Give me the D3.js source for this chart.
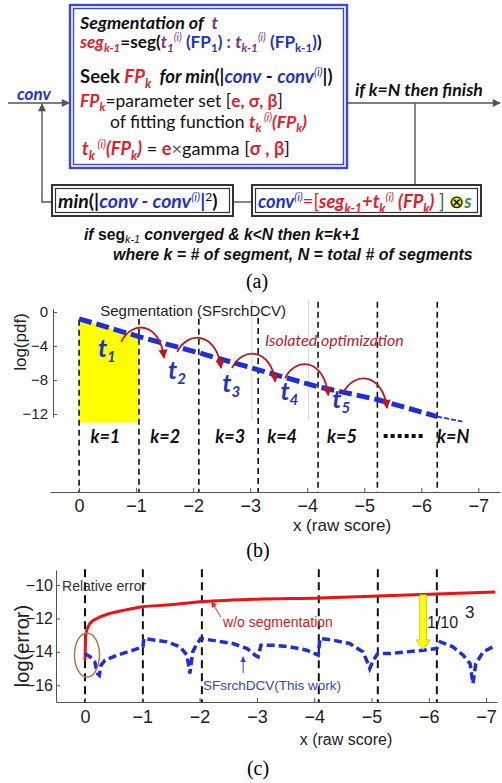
<!DOCTYPE html>
<html><head><meta charset="utf-8">
<script src="https://cdn.jsdelivr.net/npm/d3@7"></script>
<style>body{margin:0;background:#fff;}svg{display:block;}</style>
</head><body>
<svg id="c" width="502" height="783"></svg>
<script>
// ---------------- data ----------------
const xTicks = [0,-1,-2,-3,-4,-5,-6,-7];
const pdfTicks = [0,-4,-8,-12];
const errTicks = [-10,-12,-14,-16];
// panel (b)
const segBounds = [0,-1.05,-2.1,-3.14,-4.19,-5.23,-6.28];
const segTop    = [-0.9,-0.8,-0.8,-0.7,1.2,1.2,1.2];
const gridX     = [-3.03,-4.02];
const kLabels   = ["k=1","k=2","k=3","k=4","k=5","k=N"];
const kLabelX   = [-0.46,-1.51,-2.65,-3.56,-4.61,-6.56];
const pdfLineX  = [0,-1.05,-2.1,-3.14,-4.19,-5.23,-6.28];
const pdfLineY  = [-0.8,-2.9,-4.8,-6.8,-8.8,-10.3,-12.3];
const pdfTailX  = [-6.28,-6.72];
const pdfTailY  = [-12.3,-12.9];
const fillBottom = -13;
const arcFromX = [-0.74,-1.72,-2.68,-3.61,-4.63];
const arcFromY = [-3.5,-4.7,-6.6,-7.8,-9.5];
const arcToX   = [-1.49,-2.49,-3.44,-4.37,-5.40];
const arcToY   = [-5.4,-6.6,-8.2,-9.8,-11.3];
const tLabelX  = [-0.33,-1.56,-2.51,-3.53,-4.44];
const tLabelY  = [-5.3,-7.9,-9.4,-10.35,-11.3];
const tLabelSub = ["1","2","3","4","5"];
// panel (c)
const errBoundX = [0,-1.01,-2.04,-4.08,-5.11,-6.14];
const noSegX = [0,-0.017,-0.087,-0.21,-0.44,-0.84,-1.01,-1.43,-2.01,-2.58,-3.0,-4.1,-5.11,-6.14,-7.16];
const noSegY = [-14.5,-12.9,-12.3,-12.0,-11.7,-11.4,-11.3,-11.2,-11.0,-10.9,-10.85,-10.78,-10.66,-10.54,-10.42];
const segErrX = [0,-0.09,-0.17,-0.22,-0.25,-0.28,-0.35,-0.56,-0.84,-1.01,-1.03,-1.43,-1.66,-1.78,-1.83,-1.88,-1.94,-2.02,-2.3,-2.58,-2.83,-2.97,-3.02,-3.07,-3.28,-3.58,-3.87,-4.07,-4.10,-4.33,-4.62,-4.85,-4.94,-4.97,-5.03,-5.11,-5.32,-5.62,-5.9,-6.14,-6.2,-6.42,-6.6,-6.72,-6.77,-6.82,-6.95,-7.12];
const segErrY = [-14.1,-14.3,-14.6,-15.3,-15.4,-14.8,-14.5,-14.2,-13.9,-13.7,-13.2,-13.4,-13.7,-14.2,-15.3,-14.0,-13.6,-13.2,-13.35,-13.5,-13.8,-14.2,-14.3,-13.6,-13.6,-13.7,-13.9,-14.2,-13.2,-13.3,-13.5,-14.0,-14.7,-15.0,-14.5,-14.1,-14.1,-14.0,-13.9,-13.8,-13.4,-13.7,-14.2,-14.7,-15.9,-14.7,-14.0,-13.7];
const improveX = -5.9, improveFrom = -10.58, improveTo = -13.88;

// ---------------- setup ----------------
const svg = d3.select('#c');
const FLOW = "Lato, 'Open Sans', sans-serif";
const PLOT = "'Liberation Sans', Arial, sans-serif";
const SERIF = "'Liberation Serif', 'Times New Roman', serif";
const COL = {K:'#111', R:'#e3202a', B:'#2233c8', P:'#7a2f96', G:'#2e9a3a', D:'#555'};
const defs = svg.append('defs');
function marker(id, color, w, h) {
  defs.append('marker').attr('id',id).attr('viewBox','0 0 10 10').attr('refX',9).attr('refY',5)
    .attr('markerWidth',w).attr('markerHeight',h).attr('markerUnits','userSpaceOnUse').attr('orient','auto')
    .append('path').attr('d','M0,0 L10,5 L0,10 z').attr('fill',color);
}
marker('ag','#555',9,8); marker('ar','#c0151d',10,9); marker('ar2','#d03030',6,6); marker('ab','#3344cc',6,6);

function rich(x, y, parts, size, target, family, subShift) {
  const ss = subShift === undefined ? 0.25 : subShift;
  function draw(sz) {
    const t = svg.append('text').attr('x',x).attr('y',y)
      .style('font-family',family||FLOW).style('font-size',sz+'px').style('white-space','pre');
    let shift = 0;
    parts.forEach(([str, st, c]) => {
      const ts = t.append('tspan').text(str).attr('fill', COL[c]||c);
      if (st.includes('b')) ts.attr('font-weight','bold');
      if (st.includes('i')) ts.attr('font-style','italic');
      let want = 0, fs = sz;
      if (st.includes('_')) { want = ss*sz; fs = sz*0.68; }
      else if (st.includes('^')) { want = -0.38*sz; fs = sz*0.62; }
      ts.attr('font-size', fs+'px');
      if (want !== shift) { ts.attr('dy', want-shift); shift = want; }
    });
    return t;
  }
  let t = draw(size);
  if (target) { const w = t.node().getBBox().width; t.remove(); t = draw(size*target/w); }
  return t;
}

// ---------------- panel (a) ----------------
const fl = svg.append('g').attr('stroke','#555').attr('stroke-width',1.4).attr('fill','none');
fl.append('path').attr('d','M8,103 H69').attr('marker-end','url(#ag)');
fl.append('path').attr('d','M52,202 H42 V104').attr('marker-end','url(#ag)');
fl.append('path').attr('d','M347,103 H500').attr('marker-end','url(#ag)');
fl.append('path').attr('d','M415,103 V185');
fl.append('path').attr('d','M233,202 H252');
function dbox(x,y,w,h,col,o,i){
  svg.append('rect').attr('x',x).attr('y',y).attr('width',w).attr('height',h).attr('fill','#fff').attr('stroke',col).attr('stroke-width',o);
  svg.append('rect').attr('x',x+3.5).attr('y',y+3.5).attr('width',w-7).attr('height',h-7).attr('fill','none').attr('stroke',col).attr('stroke-width',i);
}
dbox(70,5,277,163,'#3a48d6',2.4,1.4);
dbox(52,185,181,31,'#333',2,1.2);
dbox(252,185,229,31,'#333',2,1.2);

rich(80,29,[["Segmentation of  ",'bi','K'],["t",'bi','P']],17,140);
rich(80,48,[["seg",'bi','R'],["k-1",'bi_','R'],["=seg(",'b','K'],["t",'bi','P'],["1",'bi_','P'],["(i)",'i^','P'],[" (FP",'b','B'],["1",'b_','B'],[")",'b','B'],[" : ",'b','P'],["t",'bi','P'],["k-1",'bi_','P'],["(i)",'i^','P'],[" (FP",'b','B'],["k-1",'b_','B'],[")",'b','B'],[")",'b','K']],17,243);
rich(80,83,[["Seek ",'b','K'],["FP",'bi','R'],["k",'bi_','R'],["  for min",'bi','K'],["(|",'b','K'],["conv",'bi','B'],[" - ",'b','K'],["conv",'bi','B'],["(i)",'i^','B'],["|)",'b','K']],17,253);
rich(80,107,[["FP",'bi','R'],["k",'bi_','R'],["=parameter set [",'','K'],["e, σ, β",'b','R'],["]",'','K']],17,203);
rich(110,128,[["of fitting function ",'','K'],["t",'bi','R'],["k",'bi_','R'],[" (i)",'i^','R'],["(FP",'bi','R'],["k",'bi_','R'],[")",'bi','R']],17,197);
rich(82,155,[["t",'bi','R'],["k",'bi_','R'],[" (i)",'i^','R'],["(FP",'bi','R'],["k",'bi_','R'],[")",'bi','R'],[" = ",'','K'],["e",'b','R'],["×",'','D'],["gamma [",'','K'],["σ , β",'b','R'],["]",'','K']],17,208);
rich(17,100,[["conv",'bi','B']],16,35);
rich(355,96,[["if k=N then finish",'bi','K']],17,128);
rich(58,208,[["min",'bi','K'],["(|",'b','K'],["conv - conv",'bi','B'],["(i)",'i^','B'],["|",'b','B'],["2",'^','K'],[")",'b','K']],17,160);
const ct = rich(258,208,[["conv",'bi','B'],["(i)",'i^','B'],["=[",'','R'],["seg",'bi','R'],["k-1",'bi_','R'],["+t",'bi','R'],["k",'bi_','R'],["(i)",'i^','R'],[" (FP",'bi','R'],["k",'bi_','R'],[")",'bi','R'],[" ] ",'','D'],["⊗",'','K'],["s",'bi','G']],17,214);
{
  const txt = ct.text(); const idx = txt.indexOf('⊗');
  const e = ct.node().getExtentOfChar(idx);
  svg.insert('circle', function(){ return ct.node(); })
    .attr('cx', e.x + e.width/2).attr('cy', e.y + e.height*0.56).attr('r', Math.min(e.width,e.height)*0.42)
    .attr('fill','#f4f000');
}
rich(84,240,[["if ",'bi','K'],["seg",'b','K'],["k-1",'i_','K'],[" converged & k<N then k=k+1",'bi','K']],15,276,PLOT,0.18);
rich(113,260,[["where k = # of segment, N = total # of segments",'bi','K']],15,360,PLOT);
svg.append('text').attr('x',257).attr('y',288).attr('text-anchor','middle').style('font-family',SERIF).style('font-size','20px').text('(a)');

// ---------------- panel (b) ----------------
const xB = d3.scaleLinear().domain([0.51,-7.38]).range([50,500]);
const yB = d3.scaleLinear().domain([0.4,-12.35]).range([308.6,416.975]);
const axisYb = 492;
const gb = svg.append('g');
gb.selectAll('.grid').data(gridX).join('line').attr('x1',d=>xB(d)).attr('x2',d=>xB(d))
  .attr('y1',yB(1.4)).attr('y2',yB(-12.7)).attr('stroke','#d4d4d4').attr('stroke-width',1);
const pts = pdfLineX.map((x,i)=>({x, y:pdfLineY[i]}));
gb.append('path').datum(pts.slice(0,2)).attr('fill','#ffff00')
  .attr('d', d3.area().x(d=>xB(d.x)).y0(yB(fillBottom)).y1(d=>yB(d.y)));
gb.selectAll('.sb').data(segBounds).join('line').attr('x1',d=>xB(d)).attr('x2',d=>xB(d))
  .attr('y1',(d,i)=>yB(segTop[i])).attr('y2',axisYb).attr('stroke','#111').attr('stroke-width',1.6).attr('stroke-dasharray','6 4');
gb.append('path').datum(pts).attr('fill','none').attr('stroke','#1f2fd8').attr('stroke-width',5).attr('stroke-dasharray','13 5')
  .attr('d', d3.line().x(d=>xB(d.x)).y(d=>yB(d.y)));
gb.append('path').datum(pdfTailX.map((x,i)=>({x,y:pdfTailY[i]}))).attr('fill','none').attr('stroke','#1f2fd8').attr('stroke-width',1.8).attr('stroke-dasharray','5 2')
  .attr('d', d3.line().x(d=>xB(d.x)).y(d=>yB(d.y)));
// arcs
arcFromX.forEach((fx,i)=>{
  const sx=xB(fx), sy=yB(arcFromY[i]), ex=xB(arcToX[i]), ey=yB(arcToY[i]), w=ex-sx, h=22;
  gb.append('path').attr('d',`M${sx},${sy} C${sx+0.25*w},${sy-h} ${ex-0.1*w},${sy-h*0.9} ${ex},${ey}`)
    .attr('fill','none').attr('stroke','#c0151d').attr('stroke-width',1.8).attr('marker-end','url(#ar)');
});
// t labels
tLabelX.forEach((tx,i)=>{
  const t = gb.append('text').attr('x',xB(tx)).attr('y',yB(tLabelY[i])).style('font-family',FLOW)
    .style('font-weight','bold').style('font-style','italic').attr('fill','#2233cc').style('font-size','25px');
  t.append('tspan').text('t');
  t.append('tspan').text(tLabelSub[i]).style('font-size','15px').attr('dy',5);
});
gb.append('text').attr('x',xB(-0.37)).attr('y',yB(-0.5)).style('font-family',PLOT).style('font-size','15px').attr('fill','#222')
  .text('Segmentation (SFsrchDCV)');
gb.append('text').attr('x',xB(-3.26)).attr('y',yB(-4.0)).style('font-family',FLOW).style('font-style','italic').style('font-size','16px')
  .attr('fill','#b8202a').text('Isolated optimization');
gb.selectAll('.kl').data(kLabels).join('text').attr('x',(d,i)=>xB(kLabelX[i])).attr('y',yB(-15.4)).attr('text-anchor','middle')
  .style('font-family',FLOW).style('font-weight','bold').style('font-style','italic').style('font-size','18px').attr('fill','#111').text(d=>d);
gb.append('line').attr('x1',xB(-5.34)).attr('x2',xB(-6.06)).attr('y1',yB(-14.6)).attr('y2',yB(-14.6))
  .attr('stroke','#111').attr('stroke-width',4).attr('stroke-dasharray','4 3');
// axes
const axb = gb.append('g').attr('transform',`translate(0,${axisYb})`)
  .call(d3.axisBottom(xB).tickValues(xTicks).tickFormat(d3.format('d')).tickSizeInner(-4).tickSizeOuter(0).tickPadding(7));
const ayb = gb.append('g').attr('transform','translate(53,0)')
  .call(d3.axisLeft(yB).tickValues(pdfTicks).tickFormat(d3.format('d')).tickSizeInner(-4).tickSizeOuter(0).tickPadding(5));
[axb,ayb].forEach(a=>{a.selectAll('path,line').attr('stroke','#555'); a.selectAll('text').style('font-family',PLOT).attr('fill','#222');});
axb.selectAll('text').style('font-size','18px');
ayb.selectAll('text').style('font-size','15px');
gb.append('text').attr('x',342).attr('y',531).attr('text-anchor','middle').style('font-family',PLOT).style('font-size','17px').attr('fill','#222').text('x (raw score)');
gb.append('text').attr('transform','translate(26,342) rotate(-90)').attr('text-anchor','middle').style('font-family',PLOT).style('font-size','17px').attr('fill','#222').text('log(pdf)');
svg.append('text').attr('x',258).attr('y',557).attr('text-anchor','middle').style('font-family',SERIF).style('font-size','20px').text('(b)');

// ---------------- panel (c) ----------------
const xC = d3.scaleLinear().domain([0.506,-7.19]).range([56,497]);
const yC = d3.scaleLinear().domain([-9.1,-17]).range([570,702]);
const gc = svg.append('g');
gc.selectAll('.eb').data(errBoundX).join('line').attr('x1',d=>xC(d)).attr('x2',d=>xC(d))
  .attr('y1',yC(-9.05)).attr('y2',yC(-17)).attr('stroke','#111').attr('stroke-width',2).attr('stroke-dasharray','8 5');
gc.append('path').datum(noSegX.map((x,i)=>({x,y:noSegY[i]}))).attr('fill','none').attr('stroke','#ee1111').attr('stroke-width',3)
  .attr('d', d3.line().x(d=>xC(d.x)).y(d=>yC(d.y)).curve(d3.curveMonotoneX));
gc.append('path').datum(segErrX.map((x,i)=>({x,y:segErrY[i]}))).attr('fill','none').attr('stroke','#1f2fd8').attr('stroke-width',3.5)
  .attr('stroke-dasharray','8 4').attr('d', d3.line().x(d=>xC(d.x)).y(d=>yC(d.y)));
gc.append('ellipse').attr('cx',xC(-0.035)).attr('cy',yC(-14.19)).attr('rx',12.5).attr('ry',22)
  .attr('fill','none').attr('stroke','#b07850').attr('stroke-width',1.5);
// yellow improvement arrow
{
  const ax=xC(improveX), y0=yC(improveFrom), y1=yC(improveTo);
  gc.append('polygon').attr('points',[[ax-3.5,y0],[ax+3.5,y0],[ax+3.5,y1-10],[ax+7,y1-10],[ax,y1],[ax-7,y1-10],[ax-3.5,y1-10]].join(' '))
    .attr('fill','#ffff00').attr('stroke','#b0b000').attr('stroke-width',0.6);
}
gc.append('text').attr('x',427).attr('y',628).style('font-family',PLOT).style('font-size','16px').attr('fill','#222').text('1/10');
gc.append('text').attr('x',465).attr('y',618).style('font-family',PLOT).style('font-size','17px').attr('fill','#222').text('3');
gc.append('text').attr('x',xC(0.4)).attr('y',yC(-10.36)).style('font-family',PLOT).style('font-size','14px').attr('fill','#333').text('Relative error');
gc.append('text').attr('x',xC(-2.41)).attr('y',yC(-12.51)).style('font-family',PLOT).style('font-size','14px').attr('fill','#d42020').text('w/o segmentation');
gc.append('text').attr('x',xC(-2.06)).attr('y',yC(-16.29)).style('font-family',PLOT).style('font-size','13.5px').attr('fill','#3344cc').text('SFsrchDCV(This work)');
gc.append('line').attr('x1',xC(-2.37)).attr('y1',yC(-11.91)).attr('x2',xC(-2.21)).attr('y2',yC(-11.0))
  .attr('stroke','#d03030').attr('stroke-width',1).attr('marker-end','url(#ar2)');
gc.append('line').attr('x1',xC(-2.76)).attr('y1',yC(-15.26)).attr('x2',xC(-2.76)).attr('y2',yC(-14.3))
  .attr('stroke','#3344cc').attr('stroke-width',1).attr('marker-end','url(#ab)');
const axc = gc.append('g').attr('transform','translate(0,702)')
  .call(d3.axisBottom(xC).tickValues(xTicks).tickFormat(d3.format('d')).tickSizeInner(-4).tickSizeOuter(0).tickPadding(8));
const ayc = gc.append('g').attr('transform','translate(56,0)')
  .call(d3.axisLeft(yC).tickValues(errTicks).tickFormat(d3.format('d')).tickSizeInner(-4).tickSizeOuter(0).tickPadding(3));
[axc,ayc].forEach(a=>{a.selectAll('path,line').attr('stroke','#555'); a.selectAll('text').style('font-family',PLOT).attr('fill','#222');});
axc.selectAll('text').style('font-size','18px');
ayc.selectAll('text').style('font-size','16px');
gc.append('text').attr('x',346).attr('y',745).attr('text-anchor','middle').style('font-family',PLOT).style('font-size','16px').attr('fill','#222').text('x (raw score)');
gc.append('text').attr('transform','translate(29,646) rotate(-90)').attr('text-anchor','middle').style('font-family',PLOT).style('font-size','20px').attr('fill','#222').text('log(error)');
svg.append('text').attr('x',258).attr('y',775).attr('text-anchor','middle').style('font-family',SERIF).style('font-size','20px').text('(c)');
</script>
</body></html>
